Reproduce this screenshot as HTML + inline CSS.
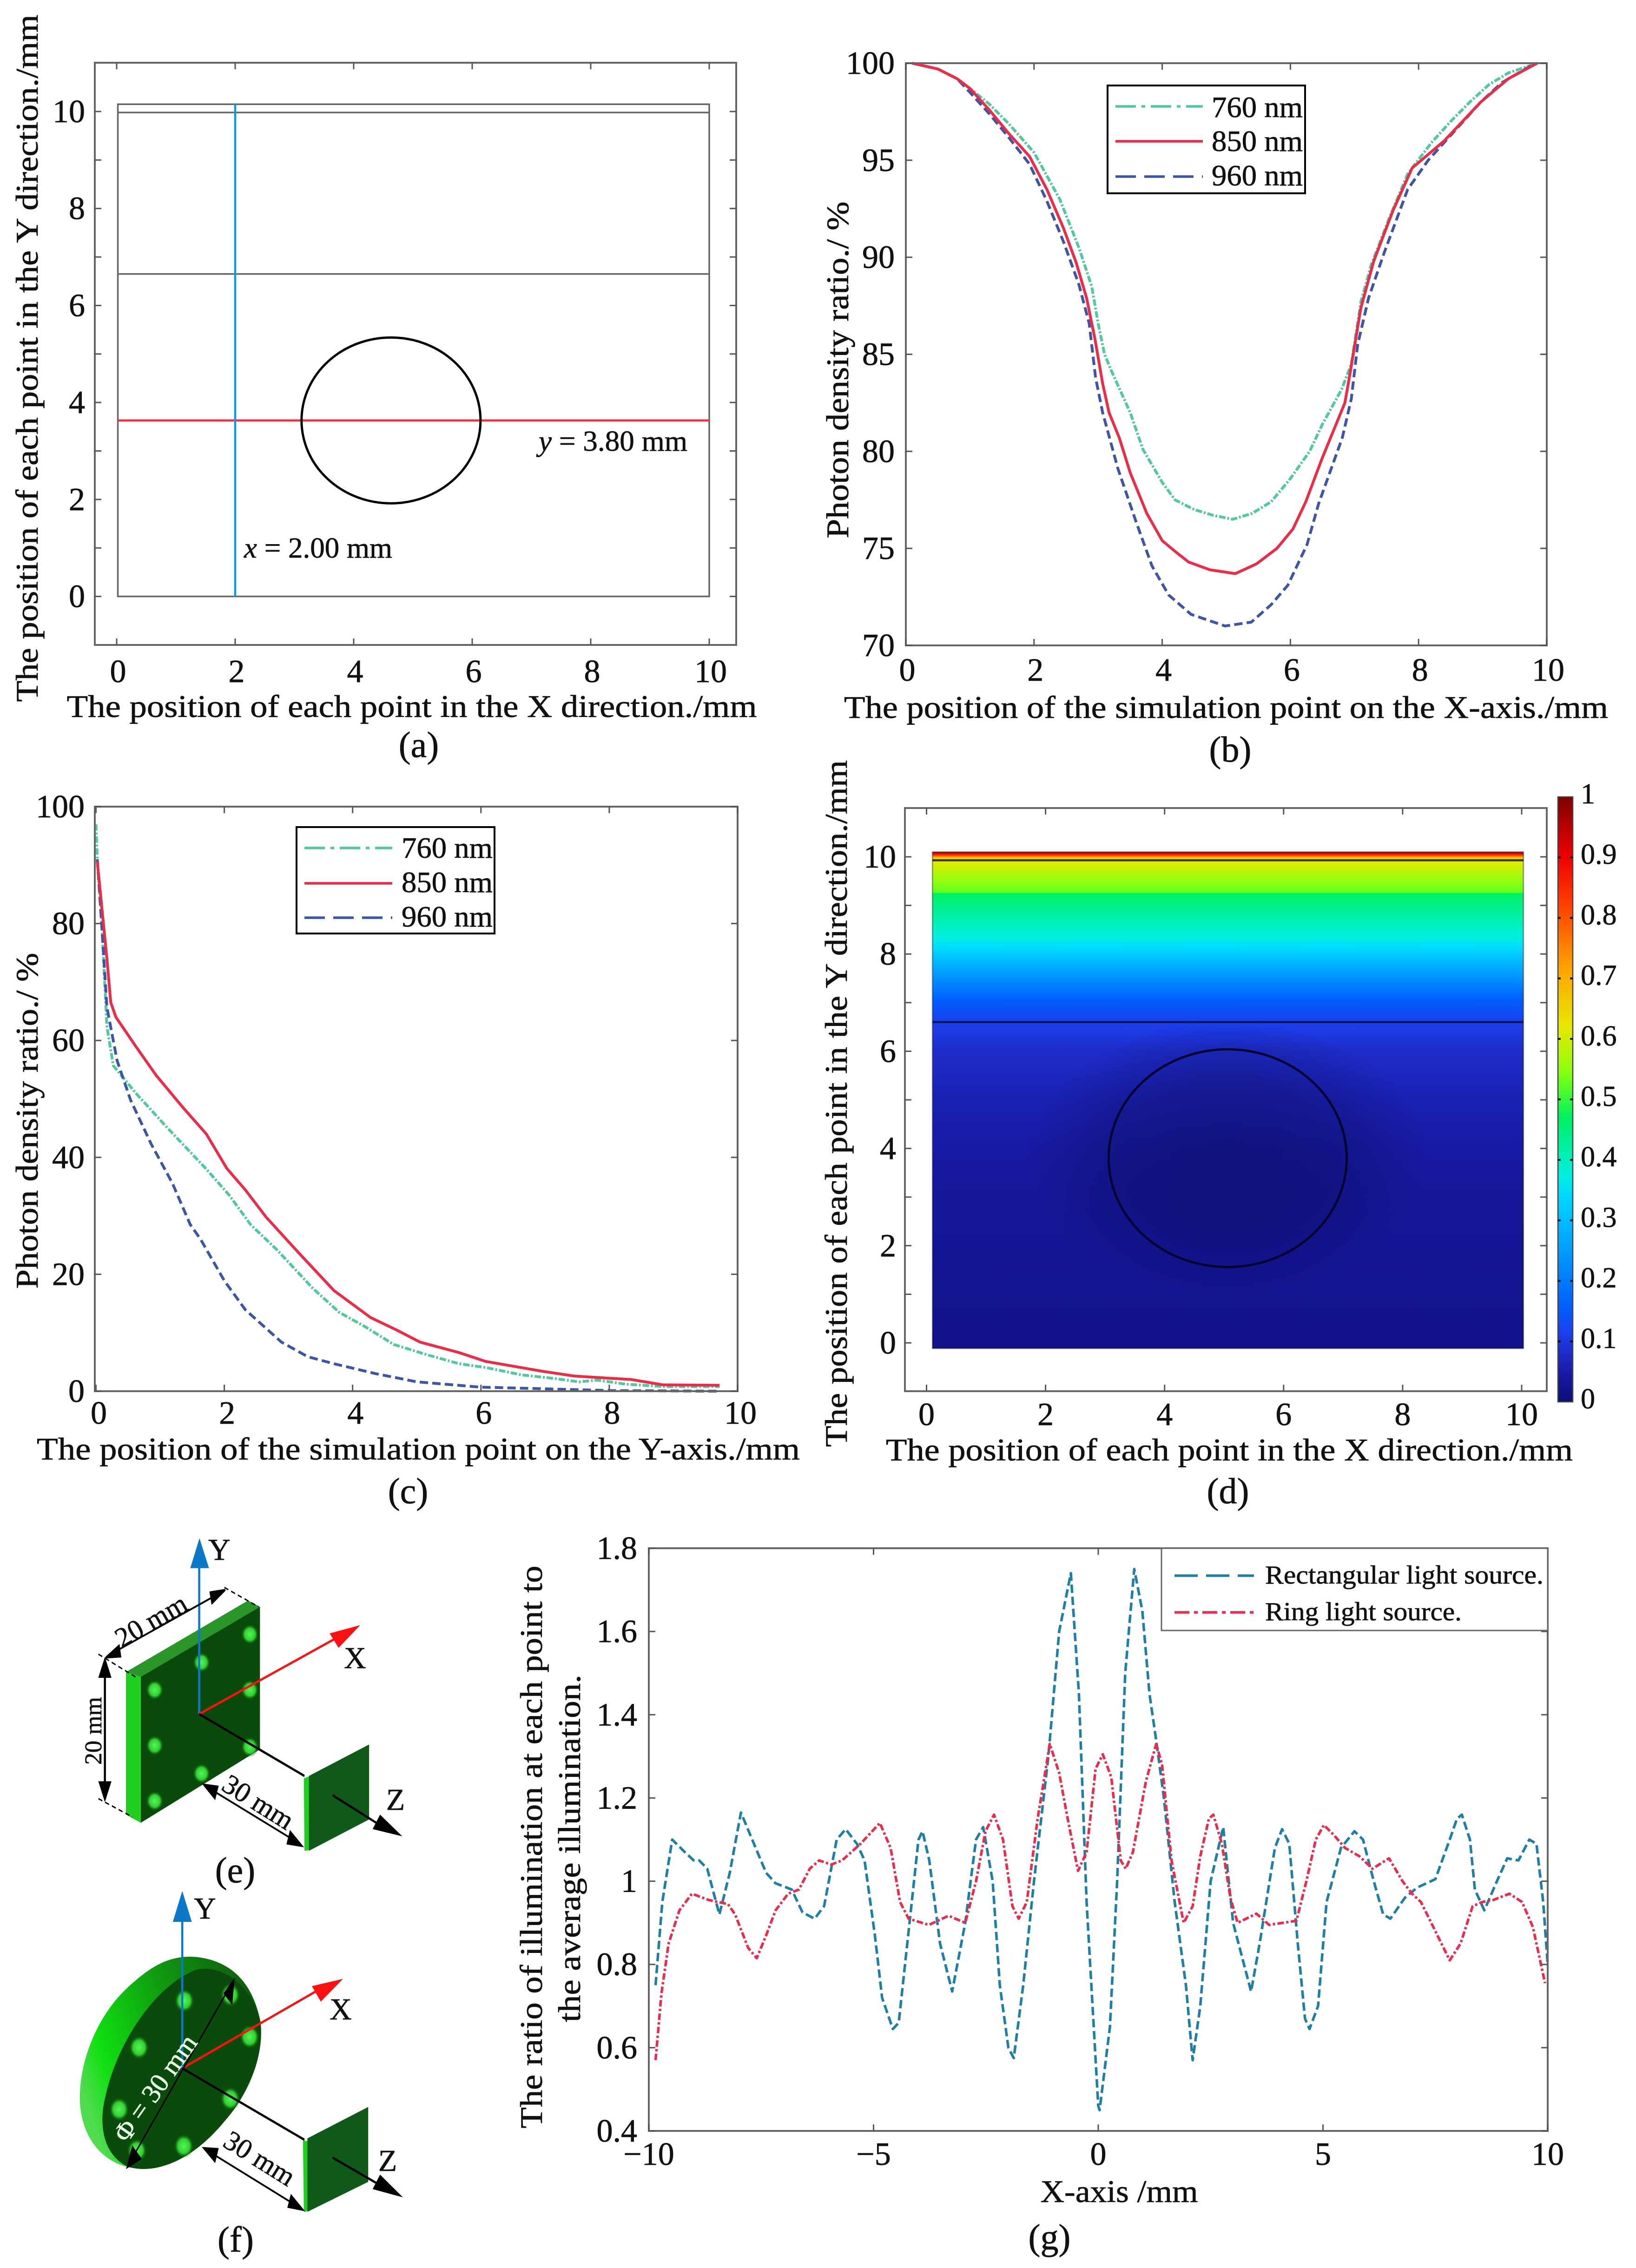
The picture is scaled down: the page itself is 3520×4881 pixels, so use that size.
<!DOCTYPE html>
<html lang="en">
<head>
<meta charset="utf-8">
<title>Photon density and illumination figure</title>
<style>
html,body{margin:0;padding:0;background:#fff;}
svg{display:block;}
text{font-family:"Liberation Serif",serif;fill:#111;stroke:#111;stroke-width:.7px;}
</style>
</head>
<body>
<svg id="fig" xmlns="http://www.w3.org/2000/svg" width="3520" height="4881" viewBox="0 0 3520 4881">
<defs id="defs">
  <radialGradient id="dotGlow"><stop offset="0" stop-color="#55f555"/><stop offset=".6" stop-color="#30d030"/><stop offset="1" stop-color="#0a4f0a" stop-opacity="0"/></radialGradient>
  <linearGradient id="discSide" x1="0" y1=".6" x2="1" y2=".2"><stop offset="0" stop-color="#4fdc4f"/><stop offset=".15" stop-color="#10e010"/><stop offset=".55" stop-color="#109a10"/><stop offset="1" stop-color="#0d5a0d"/></linearGradient>
  <radialGradient id="circleShade" cx=".5" cy=".5" r=".5"><stop offset="0" stop-color="#0c0c60" stop-opacity=".55"/><stop offset=".55" stop-color="#0c0c60" stop-opacity=".4"/><stop offset="1" stop-color="#0c0c60" stop-opacity="0"/></radialGradient>
</defs>
<rect x="0" y="0" width="3520" height="4881" fill="#fff"/>

<g id="panels"></g>

<!-- axis titles and captions -->
<g font-size="68">
  <text x="886" y="1543" text-anchor="middle" textLength="1485" lengthAdjust="spacingAndGlyphs">The position of each point in the X direction./mm</text>
  <text transform="translate(81 771) rotate(-90)" text-anchor="middle" textLength="1479" lengthAdjust="spacingAndGlyphs">The position of each point in the Y direction./mm</text>
  <text x="901" y="1629" text-anchor="middle" font-size="78">(a)</text>
  <text x="1159" y="970" font-size="62" textLength="320" lengthAdjust="spacingAndGlyphs"><tspan font-style="italic">y</tspan> = 3.80 mm</text>
  <text x="525" y="1200" font-size="62" textLength="319" lengthAdjust="spacingAndGlyphs"><tspan font-style="italic">x</tspan> = 2.00 mm</text>
</g>
<g font-size="68">
  <text x="2638" y="1545" text-anchor="middle" textLength="1644" lengthAdjust="spacingAndGlyphs">The position of the simulation point on the X-axis./mm</text>
  <text transform="translate(1825 796) rotate(-90)" text-anchor="middle" textLength="725" lengthAdjust="spacingAndGlyphs">Photon density ratio./ %</text>
  <text x="2647" y="1639" text-anchor="middle" font-size="78">(b)</text>
</g>
<g font-size="68">
  <text x="900" y="3141" text-anchor="middle" textLength="1642" lengthAdjust="spacingAndGlyphs">The position of the simulation point on the Y-axis./mm</text>
  <text transform="translate(81 2412) rotate(-90)" text-anchor="middle" textLength="723" lengthAdjust="spacingAndGlyphs">Photon density ratio./ %</text>
  <text x="878" y="3235" text-anchor="middle" font-size="78">(c)</text>
</g>
<g font-size="68">
  <text x="2645" y="3143" text-anchor="middle" textLength="1478" lengthAdjust="spacingAndGlyphs">The position of each point in the X direction./mm</text>
  <text transform="translate(1822 2375) rotate(-90)" text-anchor="middle" textLength="1478" lengthAdjust="spacingAndGlyphs">The position of each point in the Y direction./mm</text>
  <text x="2642" y="3235" text-anchor="middle" font-size="78">(d)</text>
</g>
<g font-size="68">
  <text x="2408" y="4739" text-anchor="middle" textLength="339" lengthAdjust="spacingAndGlyphs">X-axis /mm</text>
  <text transform="translate(1166 3975) rotate(-90)" text-anchor="middle" textLength="1211" lengthAdjust="spacingAndGlyphs">The ratio of illumination at each point to</text>
  <text transform="translate(1248 3978) rotate(-90)" text-anchor="middle" textLength="748" lengthAdjust="spacingAndGlyphs">the average illumination.</text>
  <text x="2258" y="4841" text-anchor="middle" font-size="78">(g)</text>
</g>

<!-- diagram (e): shapes are in zoom-space coordinates -->
<g transform="translate(100 3250) scale(.638 1.04)">
  <polygon points="268,335 318,345 318,647 268,630" fill="#1fd01f"/>
  <polygon points="268,335 680,187 720,200 318,345" fill="#2a962a"/>
  <polygon points="318,345 720,200 720,495 318,647" fill="#0a4a0a"/>
  <g fill="url(#dotGlow)">
    <ellipse cx="365" cy="372" rx="30" ry="21"/><ellipse cx="523" cy="315" rx="30" ry="21"/><ellipse cx="686" cy="257" rx="30" ry="21"/><ellipse cx="686" cy="372" rx="30" ry="21"/><ellipse cx="365" cy="487" rx="30" ry="21"/><ellipse cx="686" cy="490" rx="30" ry="21"/><ellipse cx="523" cy="545" rx="30" ry="21"/><ellipse cx="365" cy="602" rx="30" ry="21"/>
  </g>
  <polygon points="868,555 890,550 890,703 870,705" fill="#1fd01f"/>
  <polygon points="885,550 1088,485 1088,640 885,705" fill="#0f5a18"/>
  <line x1="515" y1="422" x2="515" y2="115" stroke="#0b78c8" stroke-width="7"/>
  <polygon points="516,58 485,120 548,120" fill="#0b78c8"/>
  <line x1="515" y1="422" x2="985" y2="262" stroke="#ff1010" stroke-width="5"/>
  <polygon points="1058,238 955,255 985,285" fill="#ff1010"/>
  <line x1="515" y1="422" x2="870" y2="550" stroke="#000" stroke-width="5"/>
  <line x1="965" y1="590" x2="1120" y2="650" stroke="#000" stroke-width="5"/>
  <polygon points="1200,675 1125,630 1100,660" fill="#000"/>
  <g stroke="#000" stroke-width="4" fill="#000">
    <line x1="225" y1="295" x2="575" y2="175"/><polygon points="200,305 245,280 250,303"/><polygon points="603,165 552,170 558,193"/>
    <line x1="197" y1="340" x2="197" y2="570" stroke-width="7"/><polygon points="197,308 178,345 216,345"/><polygon points="197,600 178,563 216,563"/>
    <line x1="555" y1="578" x2="840" y2="685"/><polygon points="530,568 578,572 568,597"/><polygon points="862,695 812,690 822,665"/>
    <line x1="175" y1="298" x2="300" y2="345" stroke-dasharray="14 10" stroke-width="3"/>
    <line x1="175" y1="597" x2="290" y2="635" stroke-dasharray="14 10" stroke-width="3"/>
    <line x1="600" y1="160" x2="715" y2="200" stroke-dasharray="14 10" stroke-width="3"/>
  </g>
</g>
<g font-size="60">
  <text x="472" y="3357" text-anchor="middle" font-size="66">Y</text>
  <text x="764" y="3590" text-anchor="middle" font-size="66">X</text>
  <text x="851" y="3895" text-anchor="middle" font-size="66">Z</text>
  <text transform="translate(335 3505) rotate(-30)" text-anchor="middle" font-size="60">20 mm</text>
  <text transform="translate(218 3725) rotate(-90)" text-anchor="middle" font-size="52">20 mm</text>
  <text transform="translate(545 3895) rotate(32)" text-anchor="middle" font-size="60">30 mm</text>
  <text x="506" y="4051" text-anchor="middle" font-size="78">(e)</text>
</g>

<!-- diagram (f) -->
<g transform="translate(100 3250) scale(.638 1.04)">
  <path d="M722 1060 C700 990 640 935 510 925 C410 918 340 950 270 990 C150 1060 100 1170 115 1240 C130 1310 200 1350 280 1360 Z" fill="url(#discSide)"/>
  <path d="M280 1360 C200 1340 170 1280 200 1210 C240 1100 370 980 510 950 C600 940 700 990 722 1060 C735 1130 680 1210 600 1265 C500 1340 380 1375 280 1360 Z" fill="#0a4a0a"/>
  <g fill="url(#dotGlow)">
    <ellipse cx="465" cy="1015" rx="34" ry="25"/><ellipse cx="620" cy="1003" rx="34" ry="25"/><ellipse cx="685" cy="1090" rx="34" ry="25"/><ellipse cx="620" cy="1218" rx="34" ry="25"/><ellipse cx="463" cy="1316" rx="34" ry="25"/><ellipse cx="305" cy="1325" rx="34" ry="25"/><ellipse cx="245" cy="1240" rx="34" ry="25"/><ellipse cx="312" cy="1112" rx="34" ry="25"/>
  </g>
  <polygon points="865,1305 885,1305 885,1450 868,1452" fill="#1fd01f"/>
  <polygon points="880,1300 1085,1235 1085,1390 880,1452" fill="#0f5a18"/>
  <line x1="458" y1="1155" x2="458" y2="850" stroke="#0b78c8" stroke-width="7"/>
  <polygon points="458,788 426,852 490,852" fill="#0b78c8"/>
  <line x1="458" y1="1155" x2="925" y2="990" stroke="#ff1010" stroke-width="5"/>
  <polygon points="1000,970 895,985 925,1017" fill="#ff1010"/>
  <line x1="458" y1="1155" x2="870" y2="1303" stroke="#000" stroke-width="5"/>
  <line x1="965" y1="1340" x2="1120" y2="1395" stroke="#000" stroke-width="5"/>
  <polygon points="1202,1422 1125,1375 1100,1405" fill="#000"/>
  <g stroke="#000" stroke-width="4" fill="#000">
    <line x1="290" y1="1340" x2="615" y2="990"/><polygon points="272,1360 290,1318 318,1342"/><polygon points="632,972 600,1000 625,1020"/>
    <line x1="555" y1="1330" x2="840" y2="1438"/><polygon points="530,1320 578,1322 568,1348"/><polygon points="865,1448 815,1442 825,1418"/>
  </g>
</g>
<g>
  <text x="441" y="4129" text-anchor="middle" font-size="66">Y</text>
  <text x="733" y="4346" text-anchor="middle" font-size="66">X</text>
  <text x="834" y="4672" text-anchor="middle" font-size="66">Z</text>
  <text transform="translate(350 4505) rotate(-54.8)" text-anchor="middle" font-size="58" style="fill:#e8ffe8;stroke:#e8ffe8">Φ = 30 mm</text>
  <text transform="translate(548 4662) rotate(32)" text-anchor="middle" font-size="60">30 mm</text>
  <text x="507" y="4846" text-anchor="middle" font-size="78">(f)</text>
</g>
</svg>

<script>
/* ---------- panel (a) values ---------- */
const aTicksX = [0, 2, 4, 6, 8, 10];
const aTicksY = [0, 1, 2, 3, 4, 5, 6, 7, 8, 9, 10];
const aLabelsX = ["0", "2", "4", "6", "8", "10"];
const aLabelValuesY = [0, 2, 4, 6, 8, 10];
const aLabelsY = ["0", "2", "4", "6", "8", "10"];
const aDomainX = [0.02, 10];
const aDomainY = [0, 10.15];
const aLayerY = [9.98, 6.65];
const aRedLineY = [3.63];
const aBlueLineX = [2];
const aInclusion = [4.63, 3.63, 1.51, 1.71];

/* ---------- panel (b) values ---------- */
const bTicksX = [0, 2, 4, 6, 8, 10];
const bLabelsX = ["0", "2", "4", "6", "8", "10"];
const bTicksY = [70, 75, 80, 85, 90, 95, 100];
const bLabelsY = ["70", "75", "80", "85", "90", "95", "100"];
const bX760 = [0.1,0.5,0.8,1,1.3,1.6,2,2.4,2.7,2.9,3,3.1,3.2,3.5,3.7,4,4.2,4.5,4.8,5.1,5.4,5.7,6,6.3,6.5,6.8,6.95,7.1,7.26,7.54,7.83,8.2,8.5,8.8,9.1,9.4,9.85];
const bY760 = [100,99.7,99.2,98.7,97.9,96.9,95.4,93,90.5,88.5,86.6,85,84.2,82,80.1,78.4,77.5,77,76.7,76.5,76.8,77.4,78.6,80,81.4,83.2,84.5,87.7,89.6,92,94.3,95.9,97,98,98.9,99.5,100];
const bX850 = [0.1,0.5,0.8,1,1.3,1.6,1.93,2.2,2.46,2.66,2.82,2.95,3.07,3.17,3.33,3.5,3.76,4,4.18,4.41,4.74,5.14,5.47,5.79,6.04,6.24,6.49,6.85,6.93,7.1,7.3,7.6,7.9,8.4,8.97,9.4,9.85];
const bY850 = [100,99.7,99.2,98.7,97.6,96.4,95.2,93.5,91.5,89.7,87.9,85.8,83.5,82,80.7,78.9,76.8,75.4,74.9,74.3,73.9,73.7,74.2,75,76,77.4,79.6,82.5,84,87.4,89.8,92.4,94.6,96,98,99.2,100];
const bX960 = [0.1,0.5,0.8,1,1.3,1.6,1.93,2.2,2.46,2.7,2.86,2.96,3.07,3.31,3.6,3.84,4.1,4.45,4.98,5.39,5.7,5.96,6.26,6.44,6.81,6.95,7.05,7.22,7.46,7.83,8.15,8.56,8.97,9.3,9.82];
const bY960 = [100,99.7,99.2,98.5,97.4,96.2,94.8,92.9,90.8,88.6,86.6,83.8,82,79.1,76.3,74.1,72.6,71.6,71,71.2,72.1,73.1,75.2,77.3,80.7,82.7,85.5,87.9,90.2,93.5,95,96.5,98,99,100];

/* ---------- panel (c) values ---------- */
const cTicksX = [0, 2, 4, 6, 8, 10];
const cLabelsX = ["0", "2", "4", "6", "8", "10"];
const cTicksY = [0, 20, 40, 60, 80, 100];
const cLabelsY = ["0", "20", "40", "60", "80", "100"];
const cX760 = [0,0.02,0.09,0.17,0.27,0.62,1.1,1.72,2.08,2.41,2.81,3.38,3.79,4.2,4.64,5.17,5.66,6.1,6.63,7.12,7.53,7.81,8.26,8.83,9.72];
const cY760 = [97,91,80,62.4,55.7,51,45.2,38,33.5,28.5,24.3,17.6,13.5,11,8,6.2,4.7,4,2.8,2.2,1.6,1.9,1.2,0.8,0.8];
const cX850 = [0.02,0.17,0.23,0.31,0.62,0.94,1.35,1.72,2.04,2.33,2.65,3.14,3.71,4.28,4.68,5.05,5.66,6.07,6.96,7.45,8.02,8.34,8.83,9.72];
const cY850 = [90.6,74,66.5,64,59,54,48.6,44,38.1,34.4,29.8,23.9,17.2,12.6,10.5,8.4,6.6,5.1,3.4,2.6,2.2,2,1.1,1];
const cX960 = [0.02,0.1,0.17,0.33,0.54,0.86,1.19,1.47,1.63,2,2.33,2.89,3.3,3.71,4.36,5,5.98,7.04,8.02,9.72];
const cY960 = [91,78,65.7,56.5,49.8,42.3,35.6,28.5,26,18.9,13.9,8.4,5.9,4.7,3,1.6,0.7,0.4,0.1,0];

/* ---------- panel (d) values ---------- */
const dTicksX = [0, 2, 4, 6, 8, 10];
const dLabelsX = ["0", "2", "4", "6", "8", "10"];
const dTicksY = [0, 1, 2, 3, 4, 5, 6, 7, 8, 9, 10];
const dLabelValuesY = [0, 2, 4, 6, 8, 10];
const dLabelsY = ["0", "2", "4", "6", "8", "10"];
const dDomainX = [0.1, 10.03];
const dDomainY = [-0.115, 10.1];
const dFieldY = [10.1,10.07,10.03,10,9.96,9.9,9.5,9.26,9.25,8.8,8.35,8.1,7.07,6.6,6,5,4,3,2,1,0,-0.115];
const dFieldVal = [1,0.9,0.82,0.72,0.63,0.615,0.55,0.525,0.47,0.42,0.375,0.34,0.16,0.115,0.08,0.06,0.045,0.035,0.03,0.025,0.02,0.02];
const dLayerY = [9.93, 6.6];
const dInclusion = [5.06, 3.8, 2, 2.24];
const cbarTicks = [0,0.1,0.2,0.3,0.4,0.5,0.6,0.7,0.8,0.9,1];
const cbarLabels = ["0","0.1","0.2","0.3","0.4","0.5","0.6","0.7","0.8","0.9","1"];
const cmapVals = [0,0.02,0.05,0.08,0.115,0.16,0.34,0.375,0.47,0.525,0.55,0.62,0.72,0.82,0.9,1];
const cmapColors = ["#0e0e78","#12128a","#181ca8","#1e2cc8","#1a40ee","#0060ff","#00d8ff","#00f0e0","#00f060","#60ff20","#90ff10","#e8e800","#ffa000","#ff4000","#f00000","#800000"];

/* ---------- panel (g) values ---------- */
const gTicksX = [-10, -5, 0, 5, 10];
const gLabelsX = ["\u221210", "\u22125", "0", "5", "10"];
const gTicksY = [0.4, 0.6, 0.8, 1, 1.2, 1.4, 1.6, 1.8];
const gLabelsY = ["0.4", "0.6", "0.8", "1", "1.2", "1.4", "1.6", "1.8"];
const gRectX = [-9.85,-9.7,-9.48,-9.2,-9,-8.88,-8.7,-8.43,-8.2,-7.95,-7.7,-7.39,-7.18,-6.82,-6.58,-6.31,-6.1,-5.82,-5.62,-5.37,-5.2,-4.97,-4.81,-4.57,-4.44,-4.2,-4,-3.91,-3.76,-3.52,-3.25,-2.96,-2.72,-2.56,-2.35,-2.19,-2,-1.88,-1.67,-1.43,-1.11,-0.87,-0.61,-0.43,-0.26,0,0.03,0.26,0.42,0.6,0.8,0.98,1.14,1.3,1.46,1.7,1.95,2.1,2.27,2.5,2.78,3,3.4,3.59,3.93,4.09,4.25,4.44,4.6,4.7,4.89,5.08,5.4,5.7,5.89,6.13,6.34,6.5,6.82,7.1,7.5,7.82,7.98,8.09,8.27,8.38,8.59,8.87,9.1,9.35,9.59,9.75,9.9,10];
const gRectY = [0.75,0.95,1.1,1.07,1.05,1.05,1.03,0.92,1.02,1.165,1.1,1.02,0.995,0.98,0.925,0.91,0.94,1.1,1.125,1.09,1.05,0.87,0.72,0.645,0.66,0.9,1.1,1.12,1.05,0.85,0.735,0.9,1.1,1.13,1,0.75,0.6,0.575,0.75,1,1.3,1.6,1.74,1.45,0.95,0.46,0.45,0.65,1,1.5,1.75,1.65,1.45,1.33,1.2,0.95,0.75,0.57,0.7,1,1.13,0.9,0.735,0.85,1.08,1.125,1.09,0.85,0.67,0.645,0.7,0.95,1.08,1.12,1.1,1,0.92,0.91,0.96,0.985,1.005,1.1,1.15,1.16,1.1,0.98,0.93,1,1.055,1.05,1.1,1.09,0.95,0.8];
const gRingX = [-9.85,-9.72,-9.56,-9.32,-9.04,-8.67,-8.24,-8.08,-7.79,-7.6,-7.39,-7.18,-6.9,-6.66,-6.42,-6.21,-5.94,-5.7,-5.29,-4.86,-4.62,-4.41,-4.22,-3.77,-3.33,-2.96,-2.72,-2.51,-2.32,-2.12,-1.91,-1.77,-1.59,-1.35,-1.08,-0.87,-0.68,-0.45,-0.26,-0.06,0.1,0.29,0.5,0.61,0.77,1.06,1.29,1.42,1.63,1.9,2.1,2.27,2.46,2.56,2.75,2.94,3.1,3.52,3.8,4.41,4.63,4.84,5.02,5.25,5.49,5.81,6.1,6.47,6.77,6.98,7.18,7.5,7.82,8.06,8.33,8.54,8.79,9.15,9.43,9.67,9.83,9.94];
const gRingY = [0.57,0.73,0.85,0.93,0.97,0.955,0.945,0.92,0.84,0.815,0.87,0.93,0.97,0.98,1.03,1.05,1.04,1.05,1.09,1.14,1.08,0.95,0.91,0.895,0.917,0.9,1,1.12,1.16,1.1,0.94,0.91,0.95,1.15,1.33,1.26,1.15,1.025,1.07,1.27,1.305,1.25,1.05,1.03,1.07,1.24,1.33,1.28,1.05,0.9,0.94,1.06,1.15,1.16,1.09,0.96,0.9,0.922,0.895,0.905,1,1.1,1.135,1.11,1.08,1.06,1.03,1.055,1,0.97,0.95,0.88,0.81,0.85,0.94,0.95,0.955,0.97,0.95,0.89,0.81,0.755];

/* ---------- helpers ---------- */
const NS = "http://www.w3.org/2000/svg";
const root = document.getElementById("panels");
const defs = document.getElementById("defs");
const GREEN = "#4fc9a0", RED = "#ee2a47", BLUE = "#3d55a8";

function linear(d0, d1, r0, r1) { return v => r0 + (v - d0) * (r1 - r0) / (d1 - d0); }
function mk(tag, attrs, parent) {
  const el = document.createElementNS(NS, tag);
  for (const k in attrs) el.setAttribute(k, attrs[k]);
  (parent || root).appendChild(el);
  return el;
}
function colorOf(v) {
  for (let i = 1; i < cmapVals.length; i++) {
    if (v <= cmapVals[i]) {
      const t = (v - cmapVals[i - 1]) / (cmapVals[i] - cmapVals[i - 1]);
      const a = cmapColors[i - 1], b = cmapColors[i], out = [];
      for (let c = 1; c < 7; c += 2) {
        const p = parseInt(a.substr(c, 2), 16), q = parseInt(b.substr(c, 2), 16);
        out.push(Math.round(p + (q - p) * t));
      }
      return "rgb(" + out.join(",") + ")";
    }
  }
  return cmapColors[cmapColors.length - 1];
}

function drawFrame(name, box, sx, sy, ticksX, ticksY, labelValsX, labelsX, labelValsY, labelsY, parent) {
  const group = mk("g", {}, parent);
  
  
  const frame = mk("rect", {x: box.l, y: box.t, width: box.r - box.l, height: box.b - box.t, fill: "none", stroke: "#666", "stroke-width": 4}, group);
  
  
  const len = 14;
  ticksX.forEach(v => {
    const x = sx(v);
    const t1 = mk("line", {x1: x, x2: x, y1: box.b, y2: box.b - len, stroke: "#555", "stroke-width": 3}, group);
    
    
    const t2 = mk("line", {x1: x, x2: x, y1: box.t, y2: box.t + len, stroke: "#555", "stroke-width": 3}, group);
    
    
  });
  ticksY.forEach(v => {
    const y = sy(v);
    const t1 = mk("line", {x1: box.l, x2: box.l + len, y1: y, y2: y, stroke: "#555", "stroke-width": 3}, group);
    
    
    const t2 = mk("line", {x1: box.r, x2: box.r - len, y1: y, y2: y, stroke: "#555", "stroke-width": 3}, group);
    
    
  });
  labelValsX.forEach((v, i) => {
    const t = mk("text", {x: sx(v) + box.labelDx, y: box.labelX, "text-anchor": "middle", "font-size": 70}, group);
    
    
    t.textContent = labelsX[i];
  });
  labelValsY.forEach((v, i) => {
    const t = mk("text", {x: box.labelY, y: sy(v) + 23, "text-anchor": "end", "font-size": 70}, group);
    
    
    t.textContent = labelsY[i];
  });
}

function drawSeries(name, xs, ys, sx, sy, color, dash, width) {
  let d = "";
  xs.forEach((v, i) => { d += (i ? "L" : "M") + sx(v).toFixed(1) + " " + sy(ys[i]).toFixed(1); });
  const attrs = {d: d, fill: "none", stroke: color, "stroke-width": width, "stroke-linejoin": "round"};
  if (dash) attrs["stroke-dasharray"] = dash;
  const p = mk("path", attrs);
  
  
}

function drawLegend(name, box, rows) {
  const group = mk("g", {});
  
  
  const bg = mk("rect", {x: box.l, y: box.t, width: box.r - box.l, height: box.b - box.t, fill: "#fff", stroke: box.stroke, "stroke-width": box.sw}, group);
  
  
  rows.forEach(r => {
    const attrs = {x1: box.lineL, x2: box.lineR, y1: r.ly, y2: r.ly, stroke: r.color, "stroke-width": 5.5};
    if (r.dash) attrs["stroke-dasharray"] = r.dash;
    const ln = mk("line", attrs, group);
    
    
    const t = mk("text", {x: box.textX, y: r.ty, "font-size": box.fs, textLength: box.tl(r.label), lengthAdjust: "spacingAndGlyphs"}, group);
    
    
    t.textContent = r.label;
  });
}

/* ---------- panel (a) ---------- */
{
  const box = {l: 204, r: 1584, t: 135, b: 1388, labelX: 1468, labelY: 183, labelDx: 3};
  const sx = linear(0, 10, 251, 1526), sy = linear(0, 10, 1283.6, 240);
  const dom = mk("rect", {x: sx(aDomainX[0]), y: sy(aDomainY[1]), width: sx(aDomainX[1]) - sx(aDomainX[0]), height: sy(aDomainY[0]) - sy(aDomainY[1]), fill: "none", stroke: "#666", "stroke-width": 3.5});
  
  
  aLayerY.forEach(v => {
    const l = mk("line", {x1: sx(aDomainX[0]), x2: sx(aDomainX[1]), y1: sy(v), y2: sy(v), stroke: "#666", "stroke-width": 3.5});
    
    
  });
  aRedLineY.forEach(v => {
    const l = mk("line", {x1: sx(aDomainX[0]), x2: sx(aDomainX[1]), y1: sy(v), y2: sy(v), stroke: "#ff2b3c", "stroke-width": 4.5});
    
    
  });
  aBlueLineX.forEach(v => {
    const l = mk("line", {x1: sx(v), x2: sx(v), y1: sy(aDomainY[1]), y2: sy(aDomainY[0]), stroke: "#0a9bdc", "stroke-width": 4.5});
    
    
  });
  const c = mk("ellipse", {cx: sx(aInclusion[0]), cy: sy(aInclusion[1]), rx: sx(aInclusion[2]) - sx(0), ry: sy(0) - sy(aInclusion[3]), fill: "none", stroke: "#000", "stroke-width": 5});
  
  
  drawFrame("a", box, sx, sy, aTicksX, aTicksY, aTicksX, aLabelsX, aLabelValuesY, aLabelsY);
}

/* ---------- panel (b) ---------- */
{
  const box = {l: 1949, r: 3328, t: 136, b: 1389, labelX: 1465, labelY: 1925, labelDx: 3};
  const sx = linear(0, 10, 1949, 3328), sy = linear(70, 100, 1389, 136);
  drawSeries("b-series-760nm", bX760, bY760, sx, sy, GREEN, "14 4 4 4", 6);
  drawSeries("b-series-960nm", bX960, bY960, sx, sy, BLUE, "18 9", 6);
  drawSeries("b-series-850nm", bX850, bY850, sx, sy, RED, "", 6);
  drawFrame("b", box, sx, sy, bTicksX, bTicksY, bTicksX, bLabelsX, bTicksY, bLabelsY);
  drawLegend("b-legend", {l: 2383, r: 2808, t: 184, b: 416, stroke: "#000", sw: 4, lineL: 2400, lineR: 2588, textX: 2607, fs: 64, tl: () => 196}, [
    {label: "760 nm", ly: 229, ty: 252, color: GREEN, dash: "44 12 8 12"},
    {label: "850 nm", ly: 304, ty: 325, color: RED, dash: ""},
    {label: "960 nm", ly: 380, ty: 399, color: BLUE, dash: "44 18"}
  ]);
}

/* ---------- panel (c) ---------- */
{
  const box = {l: 204, r: 1587, t: 1736, b: 2994, labelX: 3064, labelY: 182, labelDx: 6};
  const sx = linear(0, 10, 206.5, 1587), sy = linear(0, 100, 2994, 1736);
  drawSeries("c-series-760nm", cX760, cY760, sx, sy, GREEN, "14 4 4 4", 6);
  drawSeries("c-series-960nm", cX960, cY960, sx, sy, BLUE, "18 9", 6);
  drawSeries("c-series-850nm", cX850, cY850, sx, sy, RED, "", 6);
  drawFrame("c", box, sx, sy, cTicksX, cTicksY, cTicksX, cLabelsX, cTicksY, cLabelsY);
  drawLegend("c-legend", {l: 638, r: 1064, t: 1780, b: 2009, stroke: "#000", sw: 4, lineL: 655, lineR: 844, textX: 864, fs: 64, tl: () => 196}, [
    {label: "760 nm", ly: 1825, ty: 1846, color: GREEN, dash: "44 12 8 12"},
    {label: "850 nm", ly: 1901, ty: 1920, color: RED, dash: ""},
    {label: "960 nm", ly: 1975, ty: 1994, color: BLUE, dash: "44 18"}
  ]);
}

/* ---------- panel (d) ---------- */
{
  const box = {l: 1947, r: 3328, t: 1739, b: 2994, labelX: 3067, labelY: 1928, labelDx: 0};
  const sx = linear(0, 10, 1993.5, 3274), sy = linear(0, 10, 2890, 1844);
  const top = sy(dDomainY[1]), bot = sy(dDomainY[0]);
  const grad = mk("linearGradient", {id: "fieldGrad", x1: 0, y1: 0, x2: 0, y2: 1}, defs);
  dFieldY.forEach((v, i) => {
    mk("stop", {offset: (sy(v) - top) / (bot - top), "stop-color": colorOf(dFieldVal[i])}, grad);
  });
  const field = mk("rect", {x: sx(dDomainX[0]), y: top, width: sx(dDomainX[1]) - sx(dDomainX[0]), height: bot - top, fill: "url(#fieldGrad)"});
  
  
  const shade = mk("ellipse", {cx: sx(dInclusion[0]), cy: sy(dInclusion[1]), rx: (sx(dInclusion[2]) - sx(0)) * 1.7, ry: (sy(0) - sy(dInclusion[3])) * 1.25, fill: "url(#circleShade)"});
  
  
  const out = mk("rect", {x: sx(dDomainX[0]), y: top, width: sx(dDomainX[1]) - sx(dDomainX[0]), height: bot - top, fill: "none", stroke: "#000", "stroke-opacity": .35, "stroke-width": 3});
  
  
  dLayerY.forEach(v => {
    const l = mk("line", {x1: sx(dDomainX[0]), x2: sx(dDomainX[1]), y1: sy(v), y2: sy(v), stroke: "#0a1030", "stroke-opacity": .85, "stroke-width": 4.5});
    
    
  });
  const c = mk("ellipse", {cx: sx(dInclusion[0]), cy: sy(dInclusion[1]), rx: sx(dInclusion[2]) - sx(0), ry: sy(0) - sy(dInclusion[3]), fill: "none", stroke: "#050530", "stroke-width": 5});
  
  
  drawFrame("d", box, sx, sy, dTicksX, dTicksY, dTicksX, dLabelsX, dLabelValuesY, dLabelsY);

  /* colour bar */
  const cy = linear(0, 1, 3017, 1715);
  const cGrad = mk("linearGradient", {id: "cbarGrad", x1: 0, y1: 1, x2: 0, y2: 0}, defs);
  cmapVals.forEach((v, i) => {
    mk("stop", {offset: v, "stop-color": cmapColors[i]}, cGrad);
  });
  const bar = mk("rect", {x: 3352, y: cy(1), width: 32, height: cy(0) - cy(1), fill: "url(#cbarGrad)", stroke: "#444", "stroke-width": 2.5});
  
  
  cbarTicks.forEach((v, i) => {
    if (v > 0 && v < 1) {
      const tl = mk("line", {x1: 3352, x2: 3358, y1: cy(v), y2: cy(v), stroke: "#111", "stroke-width": 4});
      
      
      const tr = mk("line", {x1: 3378, x2: 3384, y1: cy(v), y2: cy(v), stroke: "#111", "stroke-width": 4});
      
      
    }
    const t = mk("text", {x: 3401, y: cy(v) + 14, "font-size": 62});
    
    
    t.textContent = cbarLabels[i];
  });
}

/* ---------- panel (g) ---------- */
{
  const box = {l: 1396, r: 3330, t: 3332, b: 4586, labelX: 4659, labelY: 1371, labelDx: 0};
  const sx = linear(-10, 10, 1396, 3330), sy = linear(0.4, 1.8, 4586, 3332);
  drawSeries("g-series-rectangular", gRectX, gRectY, sx, sy, "#1b7fa6", "18 8", 5.5);
  drawSeries("g-series-ring", gRingX, gRingY, sx, sy, "#f0294a", "14 5 5 5", 5.5);
  drawFrame("g", box, sx, sy, gTicksX, gTicksY, gTicksX, gLabelsX, gTicksY, gLabelsY);
  drawLegend("g-legend", {l: 2499, r: 3330, t: 3332, b: 3509, stroke: "#666", sw: 3, lineL: 2527, lineR: 2698, textX: 2722, fs: 56, tl: s => s[0] === "R" && s[1] === "e" ? 599 : 423}, [
    {label: "Rectangular light source.", ly: 3391, ty: 3408, color: "#1b7fa6", dash: "50 18"},
    {label: "Ring light source.", ly: 3470, ty: 3487, color: "#f0294a", dash: "32 10 8 10"}
  ]);
}
</script>
</body>
</html>
